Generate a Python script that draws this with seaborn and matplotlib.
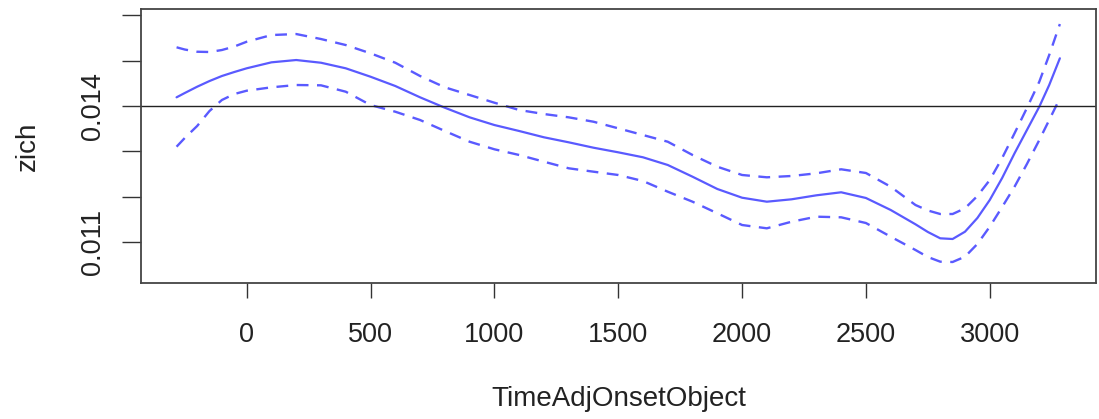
import numpy as np
import pandas as pd
import matplotlib
matplotlib.use("Agg")
import matplotlib.pyplot as plt
import seaborn as sns

# values (smooth term of zich over TimeAdjOnsetObject)
time_x = [-283, -250, -200, -150, -100, -50, 0, 100, 200, 300, 400, 500, 600,
          700, 800, 900, 1000, 1100, 1200, 1300, 1400, 1500, 1600, 1700, 1800,
          1900, 2000, 2100, 2200, 2300, 2400, 2500, 2600, 2700, 2750, 2800,
          2850, 2900, 2950, 3000, 3050, 3100, 3150, 3200, 3240, 3283]

fit = [0.014192, 0.014287, 0.014426, 0.014552, 0.014663, 0.014751, 0.014833,
       0.014965, 0.015016, 0.014956, 0.014833, 0.014647, 0.014442, 0.014192,
       0.013962, 0.013750, 0.013580, 0.013448, 0.013309, 0.013198, 0.013079,
       0.012977, 0.012867, 0.012697, 0.012438, 0.012167, 0.011974, 0.011886,
       0.011939, 0.012027, 0.012094, 0.011968, 0.011703, 0.011387, 0.011217,
       0.011077, 0.011062, 0.011223, 0.011526, 0.011924, 0.012410, 0.012955,
       0.013470, 0.013985, 0.014464, 0.015054]

upper = [0.015297, 0.015248, 0.015199, 0.015193, 0.015237, 0.015314, 0.015420,
         0.015568, 0.015590, 0.015480, 0.015347, 0.015164, 0.014956, 0.014663,
         0.014413, 0.014243, 0.014073, 0.013912, 0.013823, 0.013750, 0.013653,
         0.013507, 0.013359, 0.013211, 0.012918, 0.012659, 0.012476, 0.012425,
         0.012454, 0.012513, 0.012602, 0.012520, 0.012217, 0.011813, 0.011692,
         0.011614, 0.011614, 0.011740, 0.012012, 0.012365, 0.012851, 0.013397,
         0.013956, 0.014537, 0.015127, 0.015811]

lower = [0.013101, 0.013293, 0.013558, 0.013890, 0.014133, 0.014265, 0.014338,
         0.014413, 0.014464, 0.014457, 0.014316, 0.014022, 0.013874, 0.013691,
         0.013448, 0.013211, 0.013044, 0.012918, 0.012770, 0.012624, 0.012549,
         0.012476, 0.012343, 0.012107, 0.011886, 0.011630, 0.011371, 0.011298,
         0.011444, 0.011555, 0.011541, 0.011415, 0.011113, 0.010819, 0.010664,
         0.010561, 0.010554, 0.010671, 0.010952, 0.011334, 0.011769, 0.012217,
         0.012719, 0.013249, 0.013691, 0.014170]

ref_level = 0.014

x_ticks = [0, 500, 1000, 1500, 2000, 2500, 3000]
y_ticks = [0.011, 0.012, 0.013, 0.014, 0.015, 0.016]
y_tick_labels = ['0.011', '', '', '0.014', '', '']

df = pd.DataFrame({'TimeAdjOnsetObject': time_x, 'fit': fit,
                   'upper': upper, 'lower': lower})

sns.set_style('white')
plt.rcParams['font.family'] = ['Liberation Sans', 'DejaVu Sans']

fig = plt.figure(figsize=(10.99, 4.19), dpi=100)
ax = fig.add_axes([0.1283, 0.3246, 0.8690, 0.6539])

line_col = '#5a5aff'
sns.lineplot(data=df, x='TimeAdjOnsetObject', y='fit', ax=ax,
             color=line_col, linewidth=1.6)
for col in ['upper', 'lower']:
    sns.lineplot(data=df, x='TimeAdjOnsetObject', y=col, ax=ax,
                 color=line_col, linewidth=1.7, linestyle=(0, (5, 3.6)))

ax.axhline(ref_level, color='#222222', linewidth=1.0)

ax.set_xlim(-426.6, 3429)
ax.set_ylim(0.01009, 0.016143)

ax.set_xticks(x_ticks)
ax.set_xticklabels([str(t) for t in x_ticks], fontsize=19.5, color='#222222')
ax.set_yticks(y_ticks)
ax.set_yticklabels(y_tick_labels, fontsize=19.5, rotation=90, va='center',
                   color='#222222')

ax.tick_params(axis='x', direction='out', length=10.8, width=1.0,
               color='#333333', pad=17, bottom=True)
ax.tick_params(axis='y', direction='out', length=13.7, width=1.0,
               color='#333333', pad=11.5, left=True)

for sp in ax.spines.values():
    sp.set_color('#444444')
    sp.set_linewidth(1.3)

ax.set_xlabel('TimeAdjOnsetObject', fontsize=20, color='#222222')
ax.set_ylabel('zich', fontsize=20, color='#222222')
ax.xaxis.set_label_coords(0.5, -0.377)
ax.yaxis.set_label_coords(-0.1047, 0.5)

fig.savefig('out.png', dpi=100)
